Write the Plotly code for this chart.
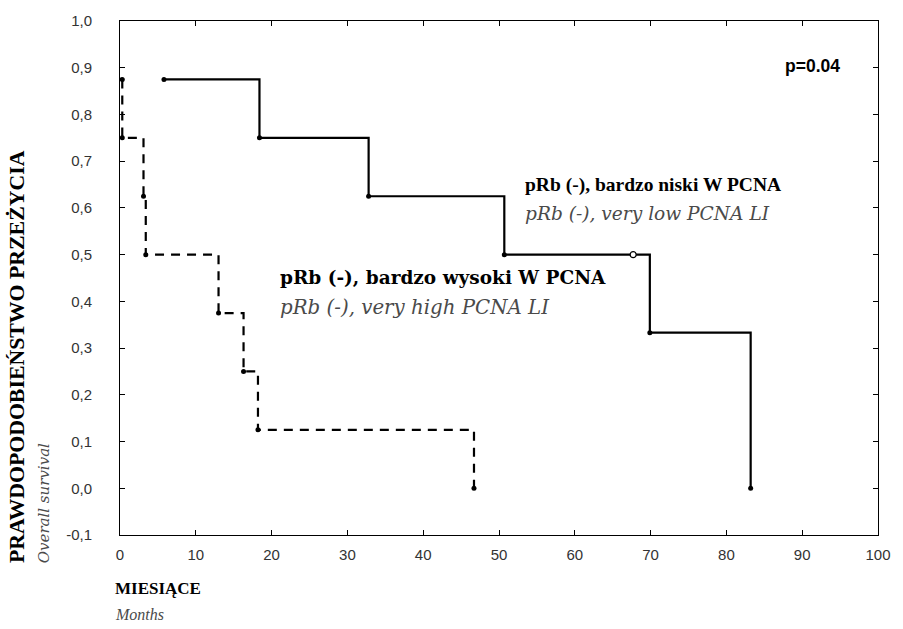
import plotly.graph_objects as go

# Kaplan-Meier estimates, months vs. overall survival
low_times = [5.8, 18.4, 32.8, 50.7, 69.9, 83.2]
low_surv = [0.875, 0.75, 0.625, 0.5, 0.333, 0.0]
low_cens_times = [67.7]
low_cens_surv = [0.5]

high_times = [0.3, 0.3, 3.1, 3.4, 13.0, 16.3, 18.2, 46.7]
high_surv = [0.875, 0.75, 0.625, 0.5, 0.375, 0.25, 0.125, 0.0]

x_ticks = [0, 10, 20, 30, 40, 50, 60, 70, 80, 90, 100]
y_ticks = [-0.1, 0.0, 0.1, 0.2, 0.3, 0.4, 0.5, 0.6, 0.7, 0.8, 0.9, 1.0]
y_tick_text = ["-0,1", "0,0", "0,1", "0,2", "0,3", "0,4", "0,5",
               "0,6", "0,7", "0,8", "0,9", "1,0"]

SERIF = "Liberation Serif, Times New Roman, serif"
WIDE_SERIF = "DejaVu Serif, serif"
SANS = "Liberation Sans, Arial, sans-serif"
GRAY = "#4a4a4a"

fig = go.Figure()

fig.add_trace(go.Scatter(
    x=low_times, y=low_surv, mode="lines+markers",
    line=dict(color="black", width=2.2, shape="hv"),
    marker=dict(color="black", size=5, symbol="circle"),
    showlegend=False, hoverinfo="x+y",
))
fig.add_trace(go.Scatter(
    x=low_cens_times, y=low_cens_surv, mode="markers",
    marker=dict(color="white", size=6, symbol="circle",
                line=dict(color="black", width=1.2)),
    showlegend=False, hoverinfo="x+y",
))
fig.add_trace(go.Scatter(
    x=high_times, y=high_surv, mode="lines+markers",
    line=dict(color="black", width=2.2, shape="hv", dash="9px,7px"),
    marker=dict(color="black", size=5, symbol="circle"),
    showlegend=False, hoverinfo="x+y",
))

annotations = [
    dict(x=95.2, y=0.904, text="<b>p=0.04</b>", xanchor="right", yanchor="middle",
         font=dict(family=SANS, size=17.5, color="black")),
    dict(x=53.1, y=0.650, text="<b>pRb (-), bardzo niski W PCNA</b>",
         xanchor="left", yanchor="middle",
         font=dict(family=SERIF, size=19.5, color="black")),
    dict(x=53.1, y=0.587, text="<i>pRb (-), very low PCNA LI</i>",
         xanchor="left", yanchor="middle",
         font=dict(family=WIDE_SERIF, size=18.6, color=GRAY)),
    dict(x=20.8, y=0.451, text="<b>pRb (-), bardzo wysoki W PCNA</b>",
         xanchor="left", yanchor="middle",
         font=dict(family=WIDE_SERIF, size=18.5, color="black")),
    dict(x=20.8, y=0.387, text="<i>pRb (-), very high PCNA LI</i>",
         xanchor="left", yanchor="middle",
         font=dict(family=WIDE_SERIF, size=19.8, color=GRAY)),
]
for a in annotations:
    a.update(xref="x", yref="y", showarrow=False)

# axis titles placed in paper space outside the frame
annotations += [
    dict(x=-0.009, y=-0.105, xref="paper", yref="paper", showarrow=False,
         text="<b>MIESIĄCE</b>", xanchor="left", yanchor="middle",
         font=dict(family=SERIF, size=17, color="black")),
    dict(x=-0.009, y=-0.155, xref="paper", yref="paper", showarrow=False,
         text="<i>Months</i>", xanchor="left", yanchor="middle",
         font=dict(family=SERIF, size=16, color=GRAY)),
    dict(x=-0.135, y=-0.058, xref="paper", yref="paper", showarrow=False,
         text="<b>PRAWDOPODOBIEŃSTWO PRZEŻYCIA</b>", textangle=-90,
         xanchor="center", yanchor="bottom",
         font=dict(family=SERIF, size=21.8, color="black")),
    dict(x=-0.101, y=-0.058, xref="paper", yref="paper", showarrow=False,
         text="<i>Overall survival</i>", textangle=-90,
         xanchor="center", yanchor="bottom",
         font=dict(family=WIDE_SERIF, size=15, color=GRAY)),
]

fig.update_layout(
    width=903, height=629,
    margin=dict(l=120, r=21, t=18, b=94),
    paper_bgcolor="white", plot_bgcolor="white",
    annotations=annotations,
    xaxis=dict(
        range=[0, 100], tickvals=x_ticks, ticks="inside", ticklen=5,
        tickcolor="black", showline=True, linecolor="black", linewidth=1,
        mirror="ticks", showgrid=False, zeroline=False,
        tickfont=dict(family=SANS, size=15, color="#333"),
        ticklabelstandoff=6,
    ),
    yaxis=dict(
        range=[-0.1, 1.0], tickvals=y_ticks, ticktext=y_tick_text,
        ticks="inside", ticklen=5, tickcolor="black", showline=True,
        linecolor="black", linewidth=1, mirror="ticks", showgrid=False,
        zeroline=False, tickfont=dict(family=SANS, size=15, color="#333"),
        ticklabelstandoff=24,
    ),
)

fig.write_html("out.html")
